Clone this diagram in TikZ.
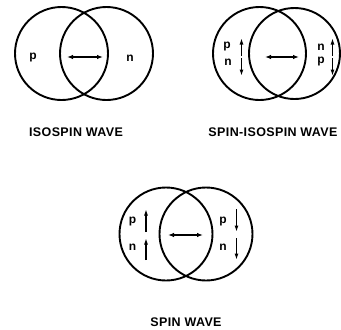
\documentclass[tikz,border=0pt]{standalone}
\usepackage{fontspec}
\setmainfont{Liberation Sans}
\newfontfamily\capfont[LetterSpace=3]{Liberation Sans Bold}
\newfontfamily\lblfont{Liberation Sans Bold}
\usetikzlibrary{arrows.meta}
\begin{document}
\begin{tikzpicture}[x=1pt,y=-1pt,
  ring/.style={line width=1.9pt},
  xarrow/.style={line width=1.4pt,{Latex[length=6pt,width=4.5pt]}-{Latex[length=6pt,width=4.5pt]}},
  spinarrow/.style={line width=1.6pt,-{Latex[length=6.5pt,width=4pt]}},
  lbl/.style={font=\lblfont\fontsize{12}{12}\selectfont, inner sep=0pt},
  captext/.style={font=\capfont\fontsize{12.5}{13}\selectfont, inner sep=0pt}]
\useasboundingbox (0,0) rectangle (341,330);
% ---------- isospin wave
\draw[ring] (61.5,53.5) circle (46.5);
\draw[ring] (106.5,53.5) circle (46.5);
\coordinate (a1l) at (67,57);
\coordinate (a1r) at (103,57);
\draw[xarrow] (a1l) -- (a1r);
\node[lbl] (p1) at (33,58) {p};
\node[lbl] (n1) at (130,58) {n};
\node[captext] (c1) at (76,132.5) {ISOSPIN WAVE};
% ---------- spin-isospin wave
\draw[ring] (259.5,53.5) circle (46.5);
\draw[ring] (294.5,53.5) circle (45.5);
\coordinate (a2l) at (265,57);
\coordinate (a2r) at (299,57);
\draw[xarrow] (a2l) -- (a2r);
\node[lbl] (p2a) at (227,47) {p};
\node[lbl] (n2a) at (228,62) {n};
\coordinate (s2a0) at (241.5,56);
\coordinate (s2a1) at (241.5,38);
\draw[spinarrow] (s2a0) -- (s2a1);
\coordinate (s2b0) at (241.5,58);
\coordinate (s2b1) at (241.5,76);
\draw[spinarrow] (s2b0) -- (s2b1);
\node[lbl] (n2b) at (321,47) {n};
\node[lbl] (p2b) at (321,62) {p};
\coordinate (s2c0) at (332.5,56);
\coordinate (s2c1) at (332.5,38);
\draw[spinarrow] (s2c0) -- (s2c1);
\coordinate (s2d0) at (332.5,58);
\coordinate (s2d1) at (332.5,76);
\draw[spinarrow] (s2d0) -- (s2d1);
\node[captext] (c2) at (273,132.5) {SPIN-ISOSPIN WAVE};
% ---------- spin wave
\draw[ring] (166,234) circle (46.5);
\draw[ring] (206,234) circle (46.5);
\coordinate (a3l) at (168,235);
\coordinate (a3r) at (203,235);
\draw[xarrow] (a3l) -- (a3r);
\node[lbl] (p3a) at (132.5,222) {p};
\node[lbl] (n3a) at (132.5,247) {n};
\coordinate (s3a0) at (146,232);
\coordinate (s3a1) at (146,209);
\draw[spinarrow] (s3a0) -- (s3a1);
\coordinate (s3b0) at (146,260);
\coordinate (s3b1) at (146,238);
\draw[spinarrow] (s3b0) -- (s3b1);
\node[lbl] (p3b) at (223,222) {p};
\node[lbl] (n3b) at (223,247) {n};
\coordinate (s3c0) at (236.5,209);
\coordinate (s3c1) at (236.5,232);
\draw[spinarrow] (s3c0) -- (s3c1);
\coordinate (s3d0) at (236.5,238);
\coordinate (s3d1) at (236.5,260);
\draw[spinarrow] (s3d0) -- (s3d1);
\node[captext] (c3) at (186,322) {SPIN WAVE};
\end{tikzpicture}
\end{document}
